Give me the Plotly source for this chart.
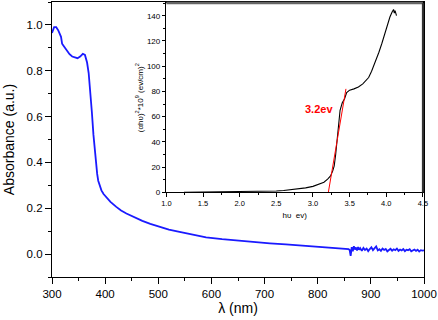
import plotly.graph_objects as go

# main spectrum: absorbance vs wavelength
wavelength = [300, 304, 308, 312, 317, 319, 323, 328, 333, 338, 343, 348, 353, 358, 362,
              366, 369, 372, 375, 378, 381, 383, 385, 387, 390, 393, 397, 402, 410, 421,
              430, 440, 455, 470, 485, 502, 520, 540, 565, 590, 620, 650, 680, 710, 740,
              770, 800, 830, 855,
              858, 860, 862, 864, 866, 868, 870, 872, 874, 876, 878, 880, 883, 886, 889,
              892, 895, 898, 901, 904, 907, 910, 913, 916, 919, 922, 925, 928, 931, 934,
              937, 940, 943, 946, 949, 952, 955, 958, 961, 964, 967, 970, 973, 976, 979,
              982, 985, 988, 991, 994, 997, 1000]
absorbance = [0.965, 0.99, 0.99, 0.975, 0.948, 0.918, 0.905, 0.887, 0.872, 0.862, 0.857, 0.855,
              0.862, 0.874, 0.869, 0.836, 0.79, 0.72, 0.62, 0.52, 0.44, 0.40, 0.35, 0.32,
              0.295, 0.278, 0.262, 0.249, 0.228, 0.206, 0.19, 0.177, 0.16, 0.145, 0.132,
              0.119, 0.107, 0.097, 0.084, 0.073, 0.065, 0.058, 0.052, 0.047, 0.042, 0.037,
              0.032, 0.028, 0.025,
              0.022, 0.018, -0.008, 0.030, 0.012, 0.034, 0.020, 0.029, 0.016, 0.031, 0.019,
              0.026, 0.014, 0.027, 0.018, 0.024, 0.013, 0.022, 0.030, 0.017, 0.025, 0.033,
              0.016, 0.021, 0.014, 0.024, 0.018, 0.022, 0.012, 0.020, 0.023, 0.015, 0.021,
              0.017, 0.024, 0.014, 0.020, 0.016, 0.022, 0.013, 0.019, 0.017, 0.021, 0.012,
              0.018, 0.020, 0.014, 0.019, 0.011, 0.017, 0.015, 0.016]

# inset: Tauc plot
energy = [1.24, 1.5, 1.8, 2.0, 2.2, 2.4, 2.5, 2.6, 2.7, 2.8, 2.9, 3.0, 3.08, 3.15, 3.2,
          3.24, 3.27, 3.29, 3.31, 3.33, 3.35, 3.37, 3.40, 3.43, 3.46, 3.50, 3.56, 3.62,
          3.68, 3.72, 3.76, 3.80, 3.85, 3.90, 3.94, 3.98, 4.02, 4.05, 4.08, 4.10, 4.11,
          4.12, 4.14]
tauc = [0, 0.1, 0.2, 0.3, 0.5, 0.8, 1.0, 1.4, 1.9, 2.6, 3.5, 4.7, 6.2, 8.0, 10.5,
        13, 17, 21, 30, 44, 57, 65, 71, 74, 79, 81, 82, 83.5,
        86, 88.5, 91, 96, 103, 111, 118, 126, 135, 139, 143, 145, 142,
        144, 140]

fit_x = [3.21, 3.45]
fit_y = [0, 82]

font = "Liberation Sans, Arial, sans-serif"

fig = go.Figure()
fig.add_trace(go.Scatter(x=wavelength, y=absorbance, mode="lines",
                         line=dict(color="#1a1aff", width=1.8), xaxis="x", yaxis="y"))
fig.add_trace(go.Scatter(x=energy, y=tauc, mode="lines",
                         line=dict(color="black", width=1.1), xaxis="x2", yaxis="y2"))
fig.add_trace(go.Scatter(x=fit_x, y=fit_y, mode="lines",
                         line=dict(color="red", width=1), xaxis="x2", yaxis="y2"))

main_ax = dict(showgrid=False, zeroline=False, showline=True, linecolor="black",
               linewidth=1.3, mirror=True, ticks="outside", ticklen=6, tickwidth=1.2,
               tickcolor="black", tickfont=dict(size=11.5, color="black"),
               ticklabeloverflow="allow")
inset_ax = dict(showgrid=False, zeroline=False, showline=True, linecolor="black",
                linewidth=1, mirror=True, ticks="outside", ticklen=3.5, tickwidth=1,
                tickcolor="black", ticklabeloverflow="allow")

fig.update_layout(
    width=438, height=320,
    margin=dict(l=52, r=12, t=1, b=43),
    paper_bgcolor="white", plot_bgcolor="white",
    font=dict(family=font, color="black"),
    showlegend=False,
    xaxis=dict(main_ax, range=[300, 1000], dtick=100,
               minor=dict(dtick=50, ticks="outside", ticklen=3, tickcolor="black"),
               title=dict(text="λ (nm)", font=dict(size=14), standoff=4)),
    yaxis=dict(main_ax, range=[-0.1, 1.1], dtick=0.2, tickformat=".1f",
               minor=dict(dtick=0.1, ticks="outside", ticklen=3, tickcolor="black"),
               title=dict(text="Absorbance (a.u.)", font=dict(size=14), standoff=8)),
    xaxis2=dict(inset_ax, domain=[0.3075, 0.997], anchor="y2", range=[1.0, 4.5], dtick=0.5,
                tickformat=".1f", tickfont=dict(size=7.5),
                minor=dict(dtick=0.25, ticks="outside", ticklen=2, tickcolor="black"),
                title=dict(text="hυ  ev)", font=dict(size=8), standoff=5)),
    yaxis2=dict(inset_ax, domain=[0.308, 0.996], anchor="x2", range=[0, 150], dtick=20,
                tickfont=dict(size=8),
                minor=dict(dtick=10, ticks="outside", ticklen=2, tickcolor="black"),
                title=dict(text="(αhυ)<sup>2</sup>*10<sup>9</sup> (ev/cm)<sup>2</sup>",
                           font=dict(size=8), standoff=2)),
    annotations=[dict(x=3.08, y=66, xref="x2", yref="y2", text="<b>3.2ev</b>",
                      showarrow=False, font=dict(size=11, color="red"))],
    shapes=[
        # heavier top and right edges of the inset frame
        dict(type="line", xref="x2 domain", yref="y2 domain", x0=0, x1=1, y0=1, y1=1,
             line=dict(color="#666666", width=2.5)),
        dict(type="line", xref="x2 domain", yref="y2 domain", x0=1, x1=1, y0=0, y1=1,
             line=dict(color="#333333", width=2)),
    ],
)

# the page body has a default 8px margin; drop it so the 438x320 figure fits the window
fig.write_html("out.html", config={"displayModeBar": False},
               post_script="document.body.style.margin='0';")
